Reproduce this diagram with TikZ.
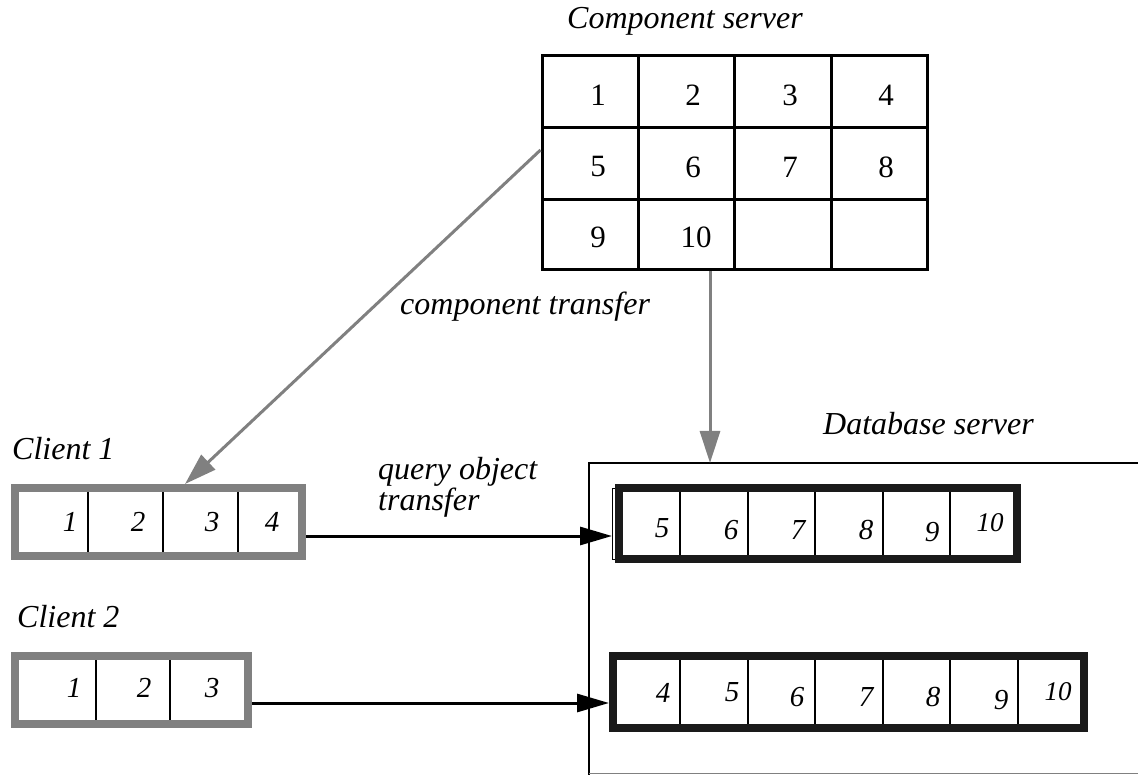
\documentclass[tikz,border=0pt]{standalone}
\usepackage{fontspec}
\setmainfont{Liberation Serif}
\usetikzlibrary{arrows.meta}
\definecolor{clientgray}{HTML}{808080}
\definecolor{rowblack}{HTML}{1A1A1A}

\begin{document}
\begin{tikzpicture}[x=1pt,y=-1pt,
  caption/.style={font=\fontsize{32}{33}\selectfont\itshape, anchor=base west, inner sep=0pt},
  gridnum/.style={font=\fontsize{31}{32}\selectfont, inner sep=0pt},
  cellnum/.style={font=\fontsize{29}{30}\selectfont\itshape, inner sep=0pt},
  tennum/.style={font=\fontsize{27}{28}\selectfont\itshape, inner sep=0pt},
  clientbox/.style={draw=clientgray, line width=8pt, fill=white, inner sep=0pt},
  rowbox/.style={draw=rowblack, line width=8pt, fill=white, inner sep=0pt},
  gridbox/.style={draw=black, line width=3pt, inner sep=0pt},
  divider/.style={draw=black, line width=1.5pt},
  grayarrow/.style={draw=clientgray, line width=3pt, -{Triangle[length=32pt,width=20pt]}},
  blackarrow/.style={draw=black, line width=3pt, -{Triangle[length=32pt,width=18pt]}}
]
\useasboundingbox (0,0) rectangle (1138,775);

% database server frame (open towards the right)
\draw[line width=2.5pt] (1140,463) -- (589,463) -- (589,775);
\draw[line width=1.5pt, clientgray] (589,773.5) -- (1140,773.5);
\coordinate (dbin) at (710,463);

% component server grid
\node[gridbox, minimum width=385pt, minimum height=214pt] (cs) at (734.5,163) {};
\foreach \x in {638,734,831} \draw[line width=3pt] (\x,56) -- (\x,270);
\foreach \y in {128,200} \draw[line width=3pt] (542,\y) -- (927,\y);
\foreach \n/\x/\y in {1/598/95,2/693/95,3/790/95,4/886/95,
                      5/598/167,6/693/167,7/790/167,8/886/167,
                      9/598/237,10/696/237}
  \node[gridnum] (csn\n) at (\x,\y) {\n};

% client 1
\node[clientbox, minimum width=287pt, minimum height=68pt] (cl1) at (158.5,522) {};
\foreach \x in {88,163,238} \draw[divider] (\x,492) -- (\x,552);
\foreach \n/\x in {1/70,2/138,3/212,4/272}
  \node[cellnum] (cla\n) at (\x,522) {\n};

% client 2
\node[clientbox, minimum width=233pt, minimum height=68pt] (cl2) at (131.5,690) {};
\foreach \x in {96,170} \draw[divider] (\x,660) -- (\x,720);
\foreach \n/\x in {1/74,2/144,3/212}
  \node[cellnum] (clb\n) at (\x,688) {\n};

% database row 1
\draw[line width=1pt] (616,488) -- (612,488) -- (612,559) -- (616,559);
\node[rowbox, minimum width=398pt, minimum height=71pt] (row1) at (818,523.5) {};
\foreach \x in {680,748,815,883,950} \draw[divider] (\x,492) -- (\x,555);
\foreach \n/\x/\y in {5/662/528,6/731/530,7/798/530,8/866/530,9/932/532}
  \node[cellnum] (rwa\n) at (\x,\y) {\n};
\node[tennum] (rwa10) at (990,523) {10};

% database row 2
\node[rowbox, minimum width=471pt, minimum height=72pt] (row2) at (848.5,692) {};
\foreach \x in {680,748,815,883,950,1018} \draw[divider] (\x,660) -- (\x,724);
\foreach \n/\x/\y in {4/663/693,5/732/692,6/797/697,7/866/697,8/933/697,9/1001/700}
  \node[cellnum] (rwb\n) at (\x,\y) {\n};
\node[tennum] (rwb10) at (1058,692) {10};

% captions
\node[caption] (tcs) at (567,29) {Component server};
\node[caption] (tct) at (400,315) {component transfer};
\node[caption] (tdb) at (823,435) {Database server};
\node[caption] (tc1) at (12,460) {Client 1};
\node[caption] (tc2) at (17,627) {Client 2};
\node[caption] (tq1) at (378,479) {query object};
\node[caption] (tq2) at (378,510) {transfer};

% component transfers
\draw[grayarrow] ([yshift=13pt]cs.west) -- ([xshift=26.5pt]cl1.north);
\draw[grayarrow] ([xshift=-24.5pt]cs.south) -- (dbin);

% query object transfers
\draw[blackarrow] ([yshift=-14pt]cl1.east) -- ([xshift=-3pt,yshift=-12.5pt]row1.west);
\draw[blackarrow] ([yshift=-13pt]cl2.east) -- ([yshift=-11pt]row2.west);
\end{tikzpicture}
\end{document}
